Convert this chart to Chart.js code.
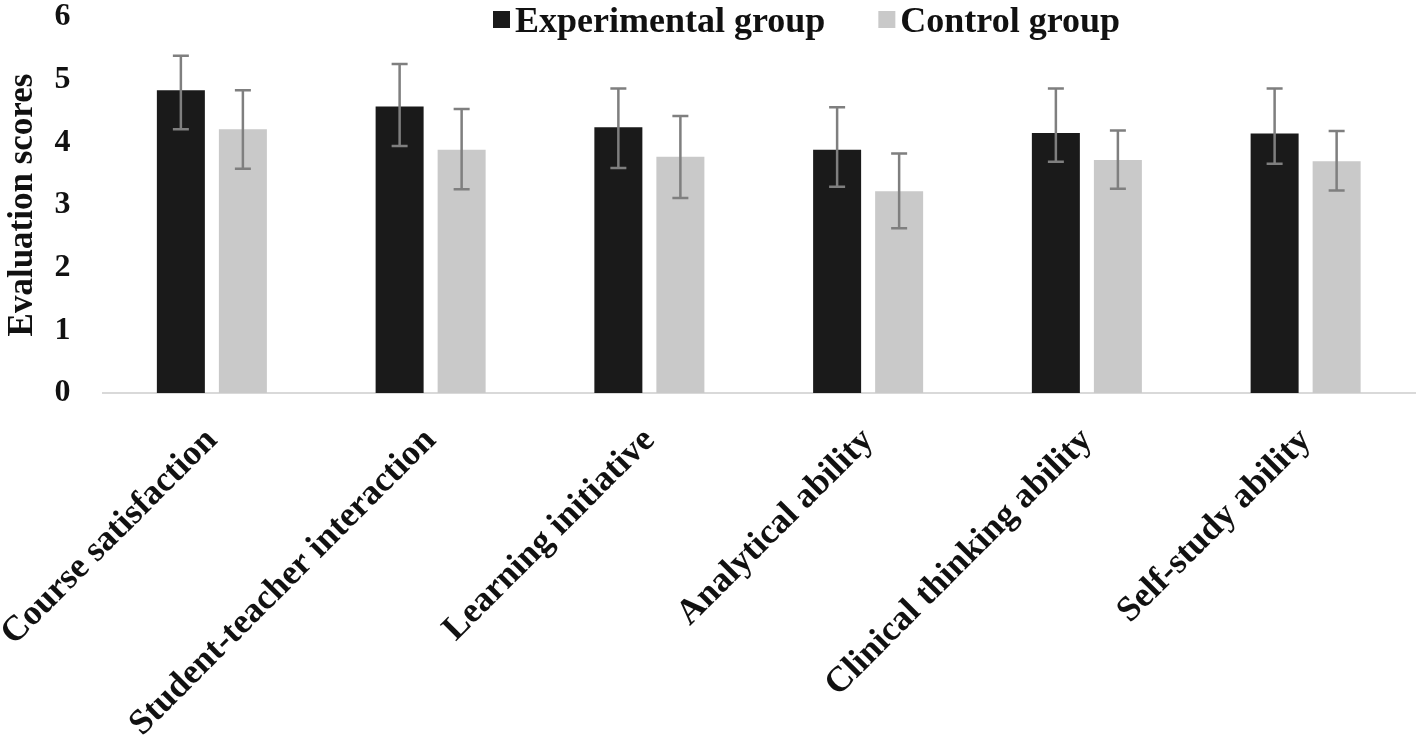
<!DOCTYPE html>
<html lang="en">
<head>
  <meta charset="UTF-8">
  <title>Evaluation scores</title>
  <script src="https://cdn.jsdelivr.net/npm/chart.js"></script>
  <style>
    body { margin: 0; background: #fff; }
    .wrap { position: relative; width: 1416px; height: 738px; }
  </style>
</head>
<body>
  <div class="wrap"><canvas id="scores"></canvas></div>

  <script>
    const categories = ["Course satisfaction", "Student-teacher interaction", "Learning initiative",
                        "Analytical ability", "Clinical thinking ability", "Self-study ability"];
    const experimental = [4.83, 4.57, 4.24, 3.88, 4.15, 4.14];
    const experimentalLow = [4.21, 3.94, 3.59, 3.29, 3.69, 3.66];
    const experimentalHigh = [5.38, 5.25, 4.86, 4.56, 4.86, 4.86];
    const control = [4.21, 3.88, 3.77, 3.22, 3.72, 3.70];
    const controlLow = [3.58, 3.25, 3.11, 2.63, 3.26, 3.23];
    const controlHigh = [4.83, 4.53, 4.42, 3.82, 4.19, 4.18];
    const yTicks = [0, 1, 2, 3, 4, 5, 6];

    const serif = '"Liberation Serif", "Times New Roman", serif';

    // error bars drawn from the low/high arrays through the y scale
    const errorBars = {
      id: "errorBars",
      afterDatasetsDraw(chart) {
        const ctx = chart.ctx;
        const y = chart.scales.y;
        ctx.save();
        ctx.strokeStyle = "#7f7f7f";
        ctx.lineWidth = 2.5;
        chart.data.datasets.forEach((ds, di) => {
          chart.getDatasetMeta(di).data.forEach((bar, i) => {
            const top = y.getPixelForValue(ds.errHigh[i]);
            const bot = y.getPixelForValue(ds.errLow[i]);
            ctx.beginPath();
            ctx.moveTo(bar.x, top); ctx.lineTo(bar.x, bot);
            ctx.moveTo(bar.x - 8, top); ctx.lineTo(bar.x + 8, top);
            ctx.moveTo(bar.x - 8, bot); ctx.lineTo(bar.x + 8, bot);
            ctx.stroke();
          });
        });
        ctx.restore();
      }
    };

    // legend sits over the top of the plot, like the original
    const topLegend = {
      id: "topLegend",
      afterDraw(chart) {
        const ctx = chart.ctx;
        ctx.save();
        ctx.font = "bold 36px " + serif;
        ctx.textBaseline = "alphabetic";
        let x = 493;
        chart.data.datasets.forEach(ds => {
          ctx.fillStyle = ds.backgroundColor;
          ctx.fillRect(x, 11, 17, 17);
          x += 22;
          ctx.fillStyle = "#111";
          ctx.fillText(ds.label, x, 31.5);
          x += ctx.measureText(ds.label).width + 53;
        });
        ctx.restore();
      }
    };

    new Chart(document.getElementById("scores"), {
      type: "bar",
      data: {
        labels: categories,
        datasets: [
          { label: "Experimental group", data: experimental, errLow: experimentalLow, errHigh: experimentalHigh,
            backgroundColor: "#1a1a1a" },
          { label: "Control group", data: control, errLow: controlLow, errHigh: controlHigh,
            backgroundColor: "#c9c9c9" }
        ]
      },
      options: {
        responsive: true,
        maintainAspectRatio: false,
        animation: false,
        datasets: { bar: { categoryPercentage: 0.567, barPercentage: 0.774 } },
        layout: { padding: { top: 17, left: 2, right: 1, bottom: 0 } },
        plugins: {
          legend: { display: false },
          tooltip: { enabled: false }
        },
        scales: {
          x: {
            grid: { display: false, drawTicks: false },
            border: { display: true, color: "#d9d9d9", width: 2 },
            ticks: {
              color: "#111",
              font: { family: serif, size: 35.5, weight: "bold" },
              minRotation: 45,
              maxRotation: 45,
              padding: 27,
              labelOffset: 0,
              autoSkip: false
            },
            afterFit(scale) { scale.paddingLeft = 0; scale.paddingRight = 0; scale.height = 345; }
          },
          y: {
            min: 0,
            max: 6,
            grid: { display: false, drawTicks: false },
            border: { display: false },
            afterBuildTicks(scale) { scale.ticks = yTicks.map(v => ({ value: v })); },
            afterFit(scale) { scale.width = 100.5; scale.paddingTop = 0; scale.paddingBottom = 0; },
            ticks: {
              color: "#111",
              font: { family: serif, size: 32, weight: "bold" },
              padding: 32
            },
            title: {
              display: true,
              text: "Evaluation scores",
              color: "#111",
              font: { family: serif, size: 35, weight: "bold" },
              padding: { top: 0, bottom: 10 }
            }
          }
        }
      },
      plugins: [errorBars, topLegend]
    });
  </script>
</body>
</html>
